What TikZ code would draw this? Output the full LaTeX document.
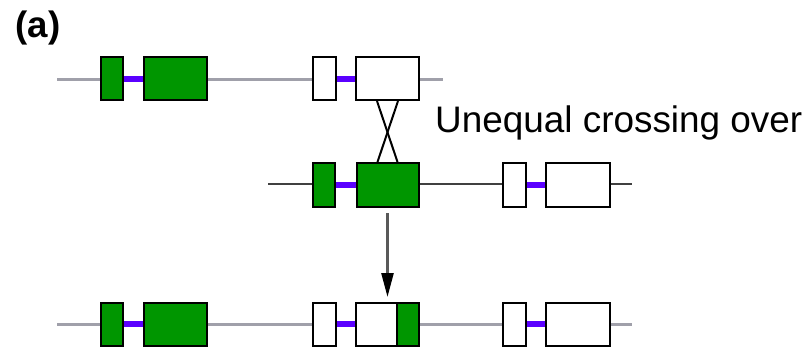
\documentclass[tikz,border=0pt]{standalone}
\usepackage{fontspec}
\setmainfont{Liberation Sans}
\usetikzlibrary{calc,arrows.meta}
\definecolor{gene}{RGB}{0,150,0}
\definecolor{link}{RGB}{90,0,255}
\definecolor{backbone}{RGB}{160,160,170}
\tikzset{
  box/.style={draw=black,line width=2pt,inner sep=0pt,minimum height=43pt},
  gbox/.style={box,fill=gene},
  wbox/.style={box,fill=white},
  bb/.style={draw=backbone,line width=3pt},
  bbdark/.style={draw=black!75,line width=1.6pt},
  lnk/.style={draw=link,line width=6pt},
  cross/.style={draw=black,line width=2pt},
  arr/.style={draw=black!65,line width=2.5pt,-{Triangle[length=24pt,width=12pt,color=black]}},
  lbl/.style={font=\fontsize{36.9}{40}\selectfont,inner sep=0pt,anchor=base west}
}
\begin{document}
\begin{tikzpicture}[x=1pt,y=-1pt]
\useasboundingbox (0,0) rectangle (809,349);
% labels
\node[lbl,font=\fontsize{36.7}{40}\selectfont\bfseries] (lab) at (15.5,37) {(a)};
\node[lbl] (uco) at (435,132) {Unequal crossing over};
% row 1
\coordinate (r1L) at (57,79);
\coordinate (r1R) at (443,79);
\draw[bb] (r1L) -- (r1R);
\node[gbox,minimum width=22pt] (a1) at (112,78.5) {};
\node[gbox,minimum width=63pt] (a2) at (175.5,78.5) {};
\node[wbox,minimum width=23pt] (a3) at (324.5,78.5) {};
\node[wbox,minimum width=63pt] (a4) at (387.5,78.5) {};
\draw[lnk] (a1.east) -- (a2.west);
\draw[lnk] (a3.east) -- (a4.west);
% row 2
\coordinate (r2L) at (268,184);
\coordinate (r2R) at (632,184);
\draw[bbdark] (r2L) -- (r2R);
\node[gbox,minimum width=22pt,minimum height=44pt] (b1) at (324,185) {};
\node[gbox,minimum width=62pt,minimum height=44pt] (b2) at (388,185) {};
\node[wbox,minimum width=23pt,minimum height=44pt] (b3) at (514.5,185) {};
\node[wbox,minimum width=64pt,minimum height=44pt] (b4) at (578,185) {};
\draw[lnk] (b1.east) -- (b2.west);
\draw[lnk] (b3.east) -- (b4.west);
% crossing
\draw[cross] ($(a4.south)+(-10.5,0)$) -- ($(b2.north)+(9.5,0)$);
\draw[cross] ($(a4.south)+(10.5,0)$) -- ($(b2.north)+(-10.5,0)$);
% row 3
\coordinate (r3L) at (57,324);
\coordinate (r3R) at (632,324);
\draw[bb] (r3L) -- (r3R);
\node[gbox,minimum width=22pt] (c1) at (112,324) {};
\node[gbox,minimum width=63pt] (c2) at (175.5,324) {};
\node[wbox,minimum width=23pt] (c3) at (324.5,324) {};
\node[wbox,minimum width=41pt] (c4) at (376.5,324) {};
\node[gbox,minimum width=22pt] (c5) at (408,324) {};
\node[wbox,minimum width=23pt] (c6) at (514.5,324) {};
\node[wbox,minimum width=64pt] (c7) at (578,324) {};
\draw[lnk] (c1.east) -- (c2.west);
\draw[lnk] (c3.east) -- (c4.west);
\draw[lnk] (c6.east) -- (c7.west);
% arrow
\coordinate (arrtip) at (387.5,297);
\draw[arr] (387.5,213) -- (arrtip);
\end{tikzpicture}
\end{document}
